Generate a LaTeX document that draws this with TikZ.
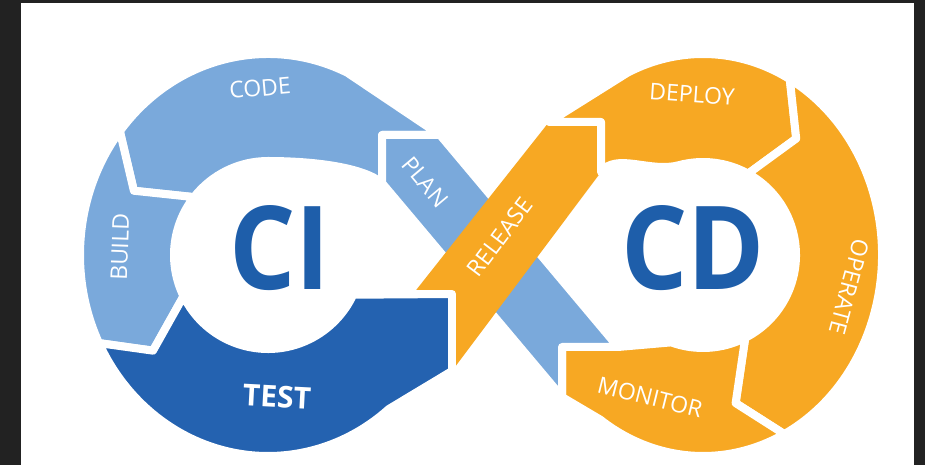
\documentclass[tikz,border=0pt]{standalone}
\usepackage{fontspec}
\usepackage{graphicx}
\setmainfont{Open Sans}

\definecolor{frame}{RGB}{34,34,34}
\definecolor{sky}{RGB}{122,169,219}
\definecolor{navy}{RGB}{36,98,176}
\definecolor{amber}{RGB}{247,168,35}
\definecolor{ink}{RGB}{30,94,170}

\begin{document}
\begin{tikzpicture}[x=1pt,y=1pt,
    seg/.style={draw=white,line width=8pt,line join=round},
    gap/.style={draw=white,line width=8pt,line join=round,line cap=round},
    lbl/.style={text=white,inner sep=0pt,font=\fontsize{23}{23}\selectfont},
    big/.style={text=ink,inner sep=0pt,font=\fontsize{116}{116}\selectfont\bfseries}]
    \fill[frame] (0,0) rectangle (925,465);
    \fill[white] (21,0) rectangle (914,462);
    \useasboundingbox (0,0) rectangle (925,465);

    \coordinate (ci) at (268,210);
    \coordinate (cd) at (703,210);

    % plan band, tip at top left
    \coordinate (p1) at (382,330);
    \coordinate (p2) at (440,330);
    \coordinate (p3) at (618,118);
    \coordinate (p4) at (562,118);
    \coordinate (p5) at (562,68);
    \coordinate (p6) at (382,282);
    % release band, tip at top right
    \coordinate (r1) at (413,171);
    \coordinate (r2) at (452,171);
    \coordinate (r3) at (452,94);
    \coordinate (r4) at (601,293);
    \coordinate (r5) at (601,343);
    \coordinate (r6) at (549,343);

    \begin{scope}[shift={(ci)}]
        \path[seg,fill=sky] (p2) -- (65:188 and 201) arc[start angle=65,end angle=142,x radius=188,y radius=201]
            -- (155:148 and 152) -- (142:94) arc[start angle=142,end angle=90,radius=94]
            .. controls (45,94) and (95,88) .. (p6) -- (p1) -- cycle;
        \path[seg,fill=sky] (142:188 and 201) -- (155:148 and 152) -- (142:94)
            arc[start angle=142,end angle=206,radius=94] -- (219:148 and 152) -- (206:188 and 201)
            arc[start angle=206,end angle=142,x radius=188,y radius=201] -- cycle;
        \path[seg,fill=navy] (206:188 and 201) -- (219:148 and 152) -- (206:94)
            arc[start angle=206,end angle=335,radius=94] -- (r2) -- (r3) -- (310:188 and 201)
            arc[start angle=310,end angle=206,x radius=188,y radius=201] -- cycle;
    \end{scope}

    \begin{scope}[shift={(cd)}]
        \path[seg,fill=amber] (r6) -- (r5) -- (r4) .. controls (-87,103) and (-53,82) .. (105:93)
            arc[start angle=105,end angle=61,radius=93] -- (50:145 and 152) -- (61:179 and 201)
            arc[start angle=61,end angle=115,x radius=179,y radius=201] -- cycle;
        \path[seg,fill=amber] (61:179 and 201) -- (50:145 and 152) -- (61:93)
            arc[start angle=61,end angle=-63,radius=93] -- (-77:145 and 152) -- (-63:179 and 201)
            arc[start angle=-63,end angle=61,x radius=179,y radius=201] -- cycle;
        \path[seg,fill=amber] (-63:179 and 201) -- (-77:145 and 152) -- (-63:93)
            arc[start angle=-63,end angle=-110,radius=93] -- (p3) -- (p4) -- (p5) -- (-125:179 and 201)
            arc[start angle=-125,end angle=-63,x radius=179,y radius=201] -- cycle;
    \end{scope}

    \path[seg,fill=sky] (p1) -- (p2) -- (p3) -- (p4) -- (p5) -- (p6) -- cycle;
    \fill[amber] (r1) -- (r2) -- (r3) -- (r4) -- (r5) -- (r6) -- cycle;
    \draw[gap] (r1) -- (r2) -- (r3);
    \draw[gap] (r6) -- (r5) -- (r4);

    \node[big] (citxt) at (280,217) {\scalebox{0.9}[1]{CI}};
    \node[big] (cdtxt) at (693,217) {\scalebox{0.9}[1]{CD}};

    \node[lbl,rotate=5] (code) at (260,377) {CODE};
    \node[lbl,rotate=-50] (plan) at (425,283) {PLAN};
    \node[lbl,rotate=88] (build) at (120,218) {BUILD};
    \node[lbl,font=\fontsize{30}{30}\selectfont\bfseries,rotate=-3] (test) at (277,68) {TEST};
    \node[lbl,rotate=53] (release) at (500,228) {RELEASE};
    \node[lbl,rotate=-4] (deploy) at (692,371) {DEPLOY};
    \node[lbl,rotate=-105] (operate) at (849,178) {OPERATE};
    \node[lbl,rotate=-14] (monitor) at (650,68) {MONITOR};
\end{tikzpicture}
\end{document}
